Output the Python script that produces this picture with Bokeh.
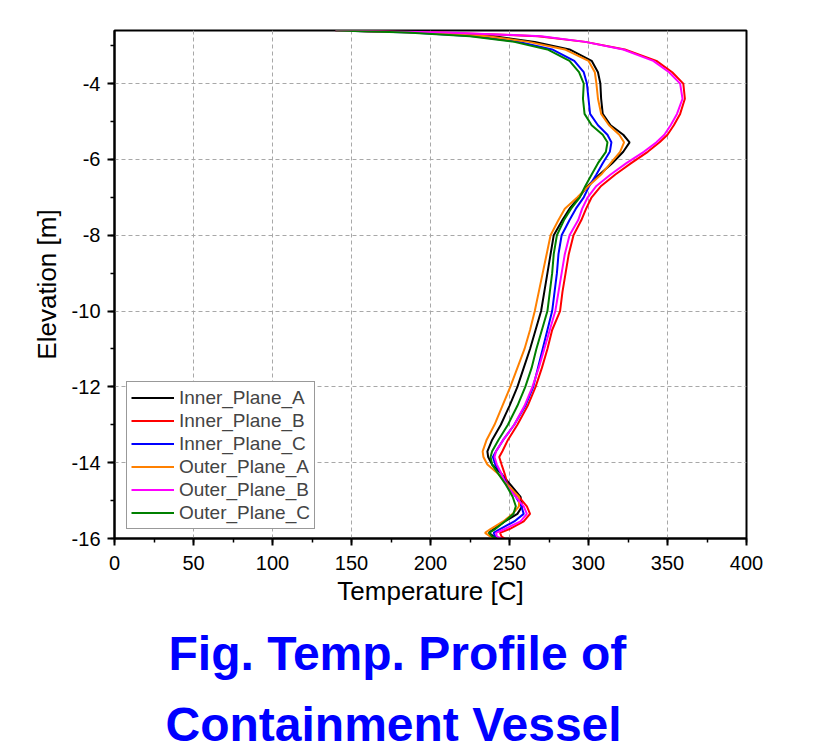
from bokeh.plotting import figure
from bokeh.models import Range1d, SingleIntervalTicker, Title, Legend, PrintfTickFormatter
from bokeh.embed import file_html
from bokeh.resources import INLINE

# ---- data ----
elevation = [-2.60, -2.65, -2.75, -2.90, -3.10, -3.40, -3.70, -4.00, -4.40, -4.80,
             -5.10, -5.35, -5.55, -5.80, -6.10, -6.40, -6.70, -7.00, -7.30, -7.60,
             -8.00, -8.50, -9.00, -9.50, -10.00, -10.50, -11.00, -11.50, -12.00, -12.50,
             -13.00, -13.40, -13.70, -13.85, -14.05, -14.30, -14.60, -14.90, -15.15, -15.35,
             -15.55, -15.75, -15.85, -15.95, -16.00]

inner_plane_a = [140, 195, 240, 266, 288, 302, 306, 307.5, 308, 309,
                 314, 322, 326, 322, 315, 307, 299.5, 294, 288, 283.5,
                 278, 276, 274, 272, 270, 266.5, 263, 259, 255, 250,
                 244.5, 239, 236, 236.5, 239, 245, 251, 257, 258, 255,
                 247, 240, 237, 240, 243]
inner_plane_b = [140, 205, 268, 298, 323, 343, 353, 360, 361, 358,
                 354, 350, 345, 337.5, 327, 317, 308, 302, 298.5, 295.5,
                 290.5, 287.5, 285.5, 283.5, 282, 277, 274, 270.5, 266.5, 261.5,
                 255, 249, 245.5, 243.5, 245, 247, 249, 256, 261, 263,
                 259, 250, 244, 245, 247]
inner_plane_c = [140, 188, 228, 256, 277, 291, 297, 299, 300, 301,
                 306, 312, 314.5, 313.5, 309, 305, 300.5, 297, 292, 288,
                 283, 281, 280, 278.5, 277, 274, 271, 268, 265, 260,
                 253, 246, 241.5, 239.5, 241, 245, 249, 254, 257.5, 259,
                 253, 244, 240, 241, 244]
outer_plane_a = [140, 192, 236, 262, 285, 300, 304, 305, 306, 308,
                 313, 319.5, 322.5, 320, 314, 308, 300, 293, 285, 281,
                 276, 273.5, 271, 268.5, 266, 263, 259.5, 255, 250.5, 245.5,
                 240.5, 235.5, 233, 233.5, 236, 243, 249, 256, 256, 252,
                 246, 238, 234.5, 238, 241]
outer_plane_b = [140, 210, 270, 298, 322, 341, 351, 358, 359.5, 356,
                 352, 348, 343, 335, 324, 314, 305, 299.5, 296, 293.5,
                 288, 285, 283, 281, 279, 275.5, 272, 268.5, 264.5, 259.5,
                 253, 246, 241.5, 240.5, 242, 245, 248, 254, 259, 261,
                 257, 247, 241.5, 242, 245]
outer_plane_c = [140, 185, 225, 253, 274, 288, 294, 297, 296.5, 297.5,
                 302, 309, 312, 311, 306, 302, 298, 294.5, 289, 284.5,
                 280, 278, 277, 275.5, 274, 270.5, 267, 264, 260, 255,
                 249, 243, 239, 238, 239, 243, 248, 252, 254, 252.5,
                 247, 241, 237, 239, 242]

series_names = ["Inner_Plane_A", "Inner_Plane_B", "Inner_Plane_C",
                "Outer_Plane_A", "Outer_Plane_B", "Outer_Plane_C"]
series_values = [inner_plane_a, inner_plane_b, inner_plane_c,
                 outer_plane_a, outer_plane_b, outer_plane_c]
series_colors = ["#000000", "#ff0000", "#0000ff", "#ff8000", "#ff00ff", "#008000"]

x_label = "Temperature [C]"
y_label = "Elevation [m]"
caption_1 = "Fig. Temp. Profile of"
caption_2 = "Containment Vessel"

FONT = "Liberation Sans"

p = figure(width=802, height=750, output_backend="svg", toolbar_location=None,
           x_range=Range1d(0, 400), y_range=Range1d(-16, -2.6))
p.min_border_left = 114
p.min_border_right = 56
p.min_border_top = 30
p.min_border_bottom = 10
p.background_fill_color = "white"
p.border_fill_color = "white"
p.outline_line_color = "black"
p.outline_line_width = 2

renderers = []
for name, vals, col in zip(series_names, series_values, series_colors):
    r = p.line(vals, elevation, line_color=col, line_width=2)
    renderers.append((name, [r]))

legend = Legend(items=renderers, location=(12, 9))
legend.label_text_font = FONT
legend.label_text_font_size = "19px"
legend.label_height = 23
legend.glyph_height = 23
legend.glyph_width = 43
legend.label_standoff = 5
legend.spacing = 0
legend.padding = 4
legend.margin = 0
legend.border_line_color = "#333333"
legend.border_line_width = 1
legend.background_fill_alpha = 1
p.add_layout(legend)

p.xaxis.ticker = SingleIntervalTicker(interval=50, num_minor_ticks=2)
p.yaxis.ticker = SingleIntervalTicker(interval=2, num_minor_ticks=2)
p.xaxis.formatter = PrintfTickFormatter(format="%d")
p.yaxis.formatter = PrintfTickFormatter(format="%d")

for ax in (p.xaxis, p.yaxis):
    ax.axis_line_width = 2
    ax.axis_line_color = "black"
    ax.major_tick_line_width = 2
    ax.minor_tick_line_width = 1.5
    ax.major_tick_in = 0
    ax.major_tick_out = 7
    ax.minor_tick_in = 0
    ax.minor_tick_out = 4
    ax.major_label_text_font = FONT
    ax.major_label_text_font_size = "20px"
    ax.major_label_text_color = "black"
    ax.axis_label_text_font = FONT
    ax.axis_label_text_font_size = "26px"
    ax.axis_label_text_font_style = "normal"
    ax.axis_label_text_color = "black"

p.xaxis.axis_label = x_label
p.yaxis.axis_label = y_label
p.xaxis.major_label_standoff = 10
p.yaxis.major_label_standoff = 7
p.xaxis.axis_label_standoff = 3
p.yaxis.axis_label_standoff = 7

for g in (p.xgrid, p.ygrid):
    g.grid_line_color = "#a8a8a8"
    g.grid_line_dash = "4 3"
    g.grid_line_width = 1

t1 = Title(text=caption_1, text_font=FONT, text_font_size="48px",
           text_font_style="bold", text_color="#0000ff", align="left", offset=54, standoff=32)
t2 = Title(text=caption_2, text_font=FONT, text_font_size="48px",
           text_font_style="bold", text_color="#0000ff", align="left", offset=51, standoff=0)
p.add_layout(t1, "below")
p.add_layout(t2, "below")

open("out.html", "w").write(file_html(p, INLINE))
